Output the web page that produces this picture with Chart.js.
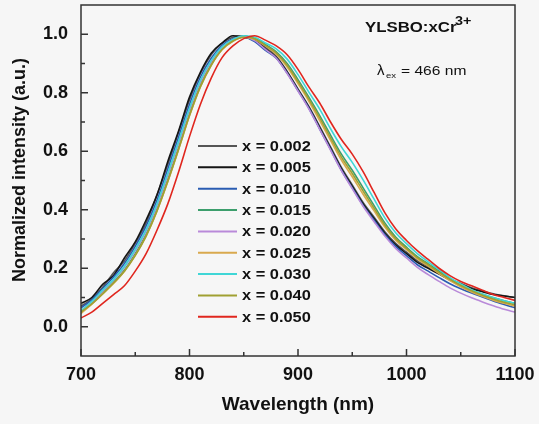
<!DOCTYPE html>
<html>
<head>
<meta charset="utf-8">
<script src="https://cdn.jsdelivr.net/npm/chart.js@4.4.0/dist/chart.umd.min.js"></script>
<style>
  html, body { margin: 0; padding: 0; background: #f6f6f6; }
  canvas { display: block; }
</style>
</head>
<body>
<canvas id="c" width="539" height="424"></canvas>
<script>
// wavelength grid (nm)
const wavelength = [700, 710, 720, 730, 740, 750, 760, 770, 780, 790, 800, 810, 820, 830, 840,
  850, 860, 870, 880, 890, 900, 910, 920, 930, 940, 950, 960, 970, 980, 990, 1000,
  1010, 1020, 1030, 1040, 1050, 1060, 1070, 1080, 1090, 1100];

// normalized intensity
const x002 = [0.07, 0.095, 0.135, 0.185, 0.225, 0.285, 0.355, 0.45, 0.555, 0.665, 0.775, 0.865, 0.93, 0.97, 0.99,
  0.995, 0.98, 0.955, 0.925, 0.873, 0.813, 0.753, 0.685, 0.615, 0.545, 0.485, 0.425, 0.375, 0.325, 0.285, 0.255,
  0.225, 0.205, 0.183, 0.163, 0.148, 0.133, 0.122, 0.113, 0.106, 0.10];
const x005 = [0.08, 0.10, 0.145, 0.175, 0.235, 0.29, 0.365, 0.45, 0.565, 0.67, 0.785, 0.87, 0.935, 0.97, 0.995,
  0.99, 0.98, 0.95, 0.92, 0.87, 0.81, 0.75, 0.68, 0.61, 0.54, 0.48, 0.42, 0.37, 0.32, 0.28, 0.25,
  0.22, 0.20, 0.18, 0.16, 0.145, 0.13, 0.12, 0.11, 0.105, 0.10];
const x010 = [0.065, 0.092, 0.131, 0.17, 0.216, 0.275, 0.344, 0.432, 0.539, 0.649, 0.76, 0.853, 0.918, 0.962, 0.985,
  0.99, 0.975, 0.945, 0.918, 0.867, 0.807, 0.747, 0.676, 0.606, 0.535, 0.475, 0.415, 0.365, 0.315, 0.275, 0.243,
  0.212, 0.19, 0.168, 0.147, 0.13, 0.115, 0.102, 0.088, 0.076, 0.065];
const x015 = [0.05, 0.08, 0.116, 0.152, 0.194, 0.25, 0.316, 0.402, 0.504, 0.614, 0.728, 0.826, 0.898, 0.95, 0.978,
  0.993, 0.987, 0.965, 0.94, 0.90, 0.845, 0.785, 0.722, 0.655, 0.59, 0.535, 0.475, 0.415, 0.355, 0.307, 0.272,
  0.24, 0.215, 0.19, 0.165, 0.144, 0.126, 0.111, 0.099, 0.089, 0.08];
const x020 = [0.055, 0.085, 0.122, 0.159, 0.203, 0.26, 0.327, 0.414, 0.518, 0.628, 0.741, 0.837, 0.906, 0.955, 0.981,
  0.992, 0.978, 0.948, 0.918, 0.866, 0.806, 0.745, 0.675, 0.604, 0.534, 0.472, 0.412, 0.36, 0.31, 0.268, 0.235,
  0.203, 0.178, 0.155, 0.133, 0.115, 0.099, 0.085, 0.072, 0.06, 0.05];
const x025 = [0.045, 0.077, 0.113, 0.148, 0.19, 0.245, 0.31, 0.396, 0.497, 0.607, 0.721, 0.82, 0.894, 0.947, 0.976,
  0.99, 0.983, 0.96, 0.932, 0.888, 0.831, 0.771, 0.705, 0.637, 0.57, 0.513, 0.453, 0.397, 0.341, 0.296, 0.264,
  0.232, 0.207, 0.182, 0.158, 0.137, 0.119, 0.104, 0.091, 0.08, 0.07];
const x030 = [0.055, 0.087, 0.125, 0.162, 0.207, 0.265, 0.332, 0.42, 0.525, 0.635, 0.747, 0.842, 0.91, 0.957, 0.982,
  0.995, 0.99, 0.97, 0.95, 0.915, 0.862, 0.802, 0.744, 0.677, 0.615, 0.562, 0.502, 0.437, 0.372, 0.321, 0.284,
  0.25, 0.222, 0.195, 0.168, 0.146, 0.127, 0.112, 0.10, 0.089, 0.08];
const x040 = [0.05, 0.078, 0.112, 0.15, 0.19, 0.243, 0.31, 0.395, 0.497, 0.607, 0.722, 0.82, 0.894, 0.948, 0.977,
  0.99, 0.985, 0.962, 0.936, 0.894, 0.838, 0.778, 0.714, 0.646, 0.58, 0.524, 0.464, 0.406, 0.348, 0.302, 0.268,
  0.236, 0.212, 0.186, 0.162, 0.141, 0.123, 0.108, 0.095, 0.084, 0.075];
const x050 = [0.03, 0.05, 0.08, 0.11, 0.14, 0.19, 0.25, 0.33, 0.42, 0.53, 0.65, 0.76, 0.85, 0.92, 0.96,
  0.985, 0.995, 0.98, 0.96, 0.93, 0.88, 0.82, 0.765, 0.70, 0.64, 0.59, 0.53, 0.46, 0.39, 0.335, 0.295,
  0.26, 0.23, 0.20, 0.175, 0.155, 0.14, 0.125, 0.11, 0.10, 0.09];

const seriesValues = [x002, x005, x010, x015, x020, x025, x030, x040, x050];
const seriesNames = ["x = 0.002", "x = 0.005", "x = 0.010", "x = 0.015", "x = 0.020",
  "x = 0.025", "x = 0.030", "x = 0.040", "x = 0.050"];
const seriesColors = ["#555555", "#151515", "#2a5cb2", "#3c9e6c", "#b98ad9",
  "#d9a94e", "#3fd6d6", "#a0a032", "#e0261e"];

const xTicks = [700, 800, 900, 1000, 1100];
const xMinorTicks = [750, 850, 950, 1050];
const yTicks = [0.0, 0.2, 0.4, 0.6, 0.8, 1.0];
const yMinorTicks = [0.1, 0.3, 0.5, 0.7, 0.9];

const FONT = "'Liberation Sans', Arial, sans-serif";
Chart.defaults.font.family = FONT;

// draws text stretched horizontally
function stretchText(ctx, text, x, y, font, sx, baseline) {
  ctx.save();
  ctx.font = font;
  ctx.textAlign = "left";
  ctx.textBaseline = baseline || "alphabetic";
  ctx.translate(x, y);
  ctx.scale(sx, 1);
  ctx.fillText(text, 0, 0);
  ctx.restore();
}

const decor = {
  id: "decor",
  afterDraw(chart) {
    const { ctx, chartArea: a, scales: { x, y } } = chart;
    ctx.save();

    // frame
    ctx.strokeStyle = "#333";
    ctx.lineWidth = 1.5;
    ctx.strokeRect(a.left, a.top, a.right - a.left, a.bottom - a.top);

    // inward ticks
    ctx.beginPath();
    xTicks.forEach(v => { const p = x.getPixelForValue(v); ctx.moveTo(p, a.bottom); ctx.lineTo(p, a.bottom - 7); });
    xMinorTicks.forEach(v => { const p = x.getPixelForValue(v); ctx.moveTo(p, a.bottom); ctx.lineTo(p, a.bottom - 4); });
    yTicks.forEach(v => { const p = y.getPixelForValue(v); ctx.moveTo(a.left, p); ctx.lineTo(a.left + 7, p); });
    yMinorTicks.forEach(v => { const p = y.getPixelForValue(v); ctx.moveTo(a.left, p); ctx.lineTo(a.left + 4, p); });
    ctx.stroke();

    // legend inside the plot
    ctx.fillStyle = "#111";
    seriesNames.forEach((name, i) => {
      const yy = a.top + 141 + i * 21.35;
      ctx.strokeStyle = seriesColors[i];
      ctx.lineWidth = 2;
      ctx.beginPath();
      ctx.moveTo(a.left + 117, yy);
      ctx.lineTo(a.left + 156, yy);
      ctx.stroke();
      stretchText(ctx, name, a.left + 161, yy + 1, "bold 14px " + FONT, 1.17, "middle");
    });

    // sample label and excitation wavelength
    stretchText(ctx, "YLSBO:xCr", 365, 32, "bold 14px " + FONT, 1.2);
    stretchText(ctx, "3+", 455, 25, "bold 12px " + FONT, 1.2);
    stretchText(ctx, "\u03bb", 377, 75, "15px " + FONT, 1.0);
    stretchText(ctx, "ex", 386, 78, "8px " + FONT, 1.2);
    stretchText(ctx, "= 466 nm", 401, 75, "12px " + FONT, 1.3);

    // axis titles
    ctx.font = "bold 19px " + FONT;
    ctx.textAlign = "center";
    ctx.textBaseline = "middle";
    ctx.fillText("Wavelength (nm)", (a.left + a.right) / 2, 405);
    ctx.save();
    ctx.translate(20, 170);
    ctx.rotate(-Math.PI / 2);
    ctx.font = "bold 18px " + FONT;
    ctx.fillText("Normalized intensity (a.u.)", 0, 0);
    ctx.restore();

    ctx.restore();
  }
};

const datasets = seriesValues.map((vals, i) => ({
  label: seriesNames[i],
  data: wavelength.map((w, j) => ({ x: w, y: vals[j] })),
  borderColor: seriesColors[i],
  backgroundColor: seriesColors[i],
  borderWidth: 1.6,
  pointRadius: 0,
  fill: false,
  cubicInterpolationMode: "monotone",
  order: seriesValues.length - 1 - i,
}));

new Chart(document.getElementById("c"), {
  type: "line",
  data: { datasets },
  options: {
    responsive: false,
    animation: false,
    devicePixelRatio: 1,
    layout: { padding: { left: 0, top: 5, right: 24, bottom: 0 } },
    plugins: { legend: { display: false }, tooltip: { enabled: false } },
    scales: {
      x: {
        type: "linear",
        min: 700,
        max: 1100,
        afterBuildTicks: s => { s.ticks = xTicks.map(v => ({ value: v })); },
        afterFit: s => { s.height = 68; s.paddingLeft = 0; s.paddingRight = 0; },
        grid: { display: false, drawTicks: false },
        border: { display: false },
        ticks: { padding: 8, color: "#111", font: { size: 18, weight: "bold" }, maxRotation: 0, callback: v => String(v) },
      },
      y: {
        type: "linear",
        min: -0.1,
        max: 1.1,
        afterBuildTicks: s => { s.ticks = yTicks.map(v => ({ value: v })); },
        afterFit: s => { s.width = 81; s.paddingTop = 0; s.paddingBottom = 0; },
        grid: { display: false, drawTicks: false },
        border: { display: false },
        ticks: { padding: 13, color: "#111", font: { size: 18, weight: "bold" }, callback: v => v.toFixed(1) },
      },
    },
  },
  plugins: [decor],
});
</script>
</body>
</html>
